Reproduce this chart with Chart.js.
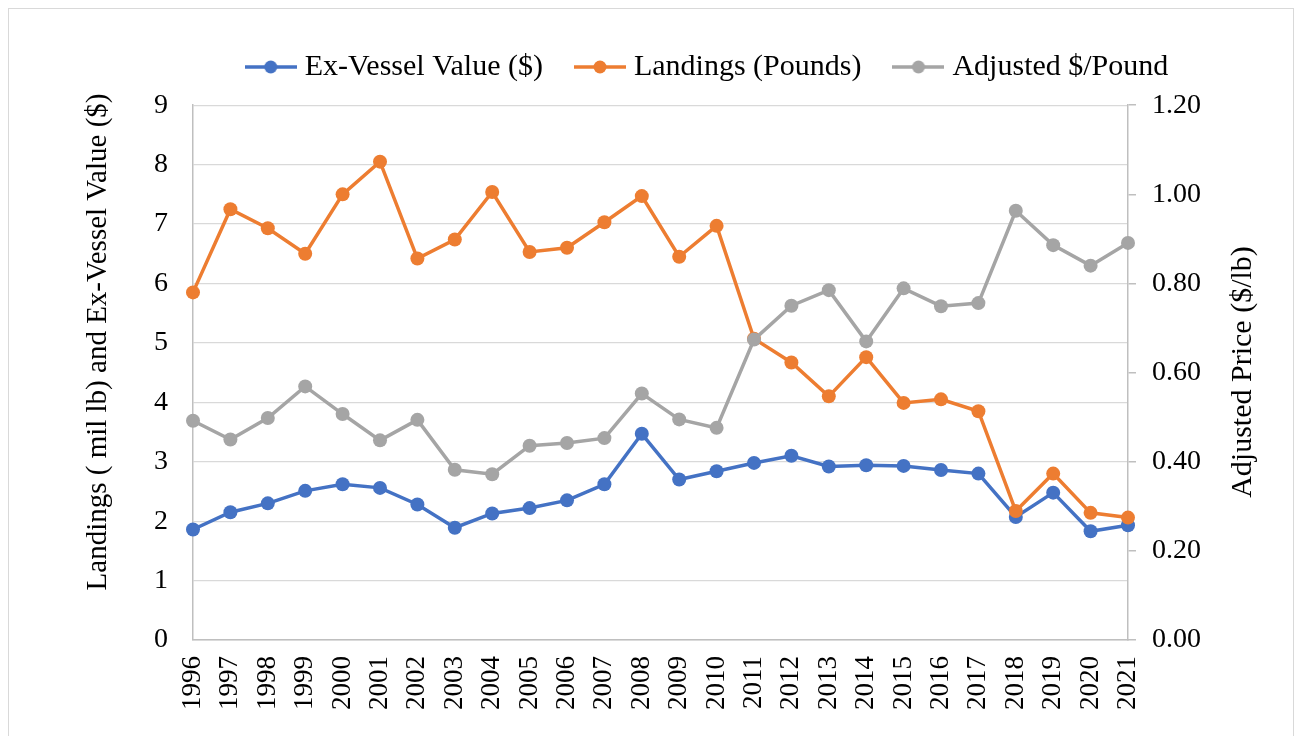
<!DOCTYPE html>
<html>
<head>
<meta charset="utf-8">
<script src="https://cdn.jsdelivr.net/npm/chart.js@4"></script>
<style>
  html, body { margin: 0; padding: 0; background: #fff; overflow: hidden; }
  #cadre { position: absolute; left: 8px; top: 8px; width: 1286px; height: 760px; border: 1.5px solid #d9d9d9; box-sizing: border-box; }
  #zone { position: absolute; left: 0; top: 0; width: 1297px; height: 736px; }
</style>
</head>
<body>
<div id="cadre"></div>
<div id="zone"><canvas id="monGraphique" width="1297" height="736"></canvas></div>
<script>
const annees = ['1996', '1997', '1998', '1999', '2000', '2001', '2002', '2003', '2004', '2005', '2006', '2007', '2008',
                '2009', '2010', '2011', '2012', '2013', '2014', '2015', '2016', '2017', '2018', '2019', '2020', '2021'];
// Valeur ex-vessel (millions $)
const valeurExVessel = [1.86, 2.15, 2.30, 2.51, 2.62, 2.56, 2.28, 1.89, 2.13, 2.22, 2.35, 2.62, 3.47,
                        2.70, 2.84, 2.98, 3.10, 2.92, 2.94, 2.93, 2.86, 2.80, 2.07, 2.48, 1.83, 1.93];
// Débarquements (millions de livres)
const debarquements = [5.85, 7.25, 6.93, 6.50, 7.50, 8.05, 6.42, 6.74, 7.54, 6.53, 6.60, 7.03, 7.47,
                       6.45, 6.97, 5.07, 4.67, 4.10, 4.76, 3.99, 4.05, 3.85, 2.17, 2.80, 2.14, 2.06];
// Prix ajusté ($/lb), axe de droite
const prixAjuste = [0.492, 0.450, 0.498, 0.569, 0.507, 0.448, 0.494, 0.382, 0.372, 0.436, 0.442, 0.453, 0.553,
                    0.495, 0.476, 0.674, 0.750, 0.785, 0.670, 0.789, 0.749, 0.756, 0.963, 0.886, 0.840, 0.891];
const ticksGauche = [0, 1, 2, 3, 4, 5, 6, 7, 8, 9];
const ticksDroite = [0, 0.2, 0.4, 0.6, 0.8, 1.0, 1.2];

const police = "'Liberation Serif', 'Times New Roman', serif";
const bleu = '#4472C4', orange = '#ED7D31', gris = '#A5A5A5';

// Petit symbole ligne + point pour la légende
function symbole(couleur) {
    const c = document.createElement('canvas');
    c.width = 52; c.height = 16;
    const g = c.getContext('2d');
    g.strokeStyle = couleur; g.lineWidth = 3.5;
    g.beginPath(); g.moveTo(0, 8); g.lineTo(52, 8); g.stroke();
    g.fillStyle = couleur;
    g.beginPath(); g.arc(26, 8, 6.5, 0, Math.PI * 2); g.fill();
    return c;
}
const symboles = [symbole(bleu), symbole(orange), symbole(gris)];

// Titres des axes dessinés à la main (les deux lus de bas en haut)
function titreVertical(ctx, texte, x, y, taille) {
    ctx.save();
    ctx.font = taille + 'px ' + police;
    ctx.fillStyle = '#000';
    ctx.textAlign = 'center';
    ctx.textBaseline = 'middle';
    ctx.translate(x, y);
    ctx.rotate(-Math.PI / 2);
    ctx.fillText(texte, 0, 0);
    ctx.restore();
}
const titresAxes = {
    id: 'titresAxes',
    afterDraw(chart) {
        titreVertical(chart.ctx, 'Landings ( mil lb) and Ex-Vessel Value ($)', 98, 342, 29);
        titreVertical(chart.ctx, 'Adjusted Price ($/lb)', 1243, 372, 30);
    }
};

document.addEventListener('DOMContentLoaded', function() {
    const ctx = document.getElementById('monGraphique').getContext('2d');

    const serie = (label, data, couleur, axe, ordre) => ({
        label: label,
        data: data,
        yAxisID: axe,
        borderColor: couleur,
        backgroundColor: couleur,
        borderWidth: 3.5,
        pointRadius: 7,
        pointBorderWidth: 0,
        pointBackgroundColor: couleur,
        tension: 0,
        order: ordre
    });

    new Chart(ctx, {
        type: 'line',
        data: {
            labels: annees,
            datasets: [
                serie('Ex-Vessel Value ($)', valeurExVessel, bleu, 'y', 2),
                serie('Landings (Pounds)', debarquements, orange, 'y', 1),
                serie('Adjusted $/Pound', prixAjuste, gris, 'y1', 0)
            ]
        },
        options: {
            responsive: false,
            animation: false,
            layout: { padding: { left: 123, right: 0, top: 14, bottom: 0 } },
            scales: {
                x: {
                    grid: { display: false, drawTicks: false },
                    border: { display: true, color: '#bfbfbf', width: 1.5 },
                    ticks: {
                        autoSkip: false, minRotation: 90, maxRotation: 90,
                        padding: 16, color: '#000',
                        font: { family: police, size: 27 }
                    },
                    afterFit: s => { s.height = 96; }
                },
                y: {
                    position: 'left',
                    min: 0, max: 9,
                    afterBuildTicks: s => { s.ticks = ticksGauche.map(v => ({ value: v })); },
                    grid: { color: '#d9d9d9', lineWidth: 1.3, drawTicks: false },
                    border: { display: true, color: '#bfbfbf', width: 1.5 },
                    ticks: { padding: 25, color: '#000', font: { family: police, size: 28 } },
                    afterFit: s => { s.width = 70; }
                },
                y1: {
                    position: 'right',
                    min: 0, max: 1.2,
                    afterBuildTicks: s => { s.ticks = ticksDroite.map(v => ({ value: v })); },
                    grid: { drawOnChartArea: false, drawTicks: true, tickLength: 8, color: '#bfbfbf', lineWidth: 1.5 },
                    border: { display: true, color: '#bfbfbf', width: 1.5 },
                    ticks: {
                        padding: 16, color: '#000', font: { family: police, size: 28 },
                        callback: v => v.toFixed(2)
                    },
                    afterFit: s => { s.width = 169; }
                }
            },
            plugins: {
                // titre vide : sert seulement d'espace entre la légende et le graphique
                title: { display: true, text: '', weight: 500, font: { size: 1 }, padding: { top: 0, bottom: 12 } },
                legend: {
                    position: 'top',
                    labels: {
                        usePointStyle: true,
                        pointStyleWidth: 38,
                        boxHeight: 16,
                        padding: 38,
                        color: '#000',
                        font: { family: police, size: 30 },
                        sort: (a, b) => a.datasetIndex - b.datasetIndex,
                        generateLabels: chart => {
                            const items = Chart.defaults.plugins.legend.labels.generateLabels(chart);
                            items.forEach(it => { it.pointStyle = symboles[it.datasetIndex]; });
                            return items;
                        }
                    }
                },
                tooltip: { enabled: false }
            }
        },
        plugins: [titresAxes]
    });
});
</script>
</body>
</html>
